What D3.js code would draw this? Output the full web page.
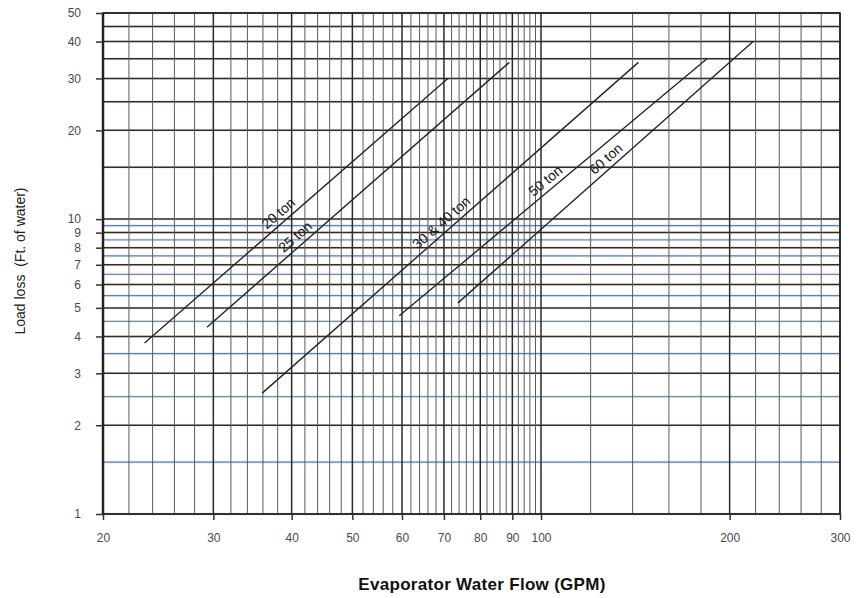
<!DOCTYPE html>
<html>
<head>
<meta charset="utf-8">
<script src="https://cdn.jsdelivr.net/npm/d3@7"></script>
<style>
    body { margin: 0; background: #fff; }
    svg { display: block; }
</style>
</head>
<body>
<script>
// chart data
const tons = ['20 ton', '25 ton', '30 & 40 ton', '50 ton', '60 ton']
const flowStart = [23.3, 29.3, 35.9, 59.4, 73.7]
const lossStart = [3.8, 4.3, 2.57, 4.7, 5.2]
const flowEnd = [71, 89, 143, 184, 218]
const lossEnd = [30, 34, 34, 35, 40]
const labelFlow = [39, 41.5, 71, 104, 130]

const xTicks = [20, 30, 40, 50, 60, 70, 80, 90, 100, 200, 300]
const yTicks = [1, 2, 3, 4, 5, 6, 7, 8, 9, 10, 20, 30, 40, 50]

// grid lines of the log paper
const xGrid = d3.range(20, 100, 2).concat(d3.range(100, 301, 20))
const yGrid = d3.range(1, 10, 0.5).concat(d3.range(10, 51, 5))

const width = 867
const height = 598

const x = d3.scaleLog().domain([20, 300]).range([103, 840])
const y = d3.scaleLog().domain([1, 50]).range([514, 13])

const svg = d3.select('body').append('svg')
    .attr('width', width)
    .attr('height', height)
    .attr('viewBox', [0, 0, width, height])
    .attr('font-family', 'Liberation Sans, Arial, sans-serif')

const isMajorX = d => xTicks.includes(d)
const isMajorY = d => Number.isInteger(d)
const tint = ['#a8925a', '#5f7fb8', '#8a6f55', '#7d8fa8']

// faint halo the scan left round the printed horizontal lines
svg.append('g')
    .selectAll('line')
    .data(yGrid)
    .join('line')
        .attr('x1', x(20))
        .attr('x2', x(300))
        .attr('y1', d => y(d))
        .attr('y2', d => y(d))
        .attr('stroke', (d, i) => i % 2 ? '#d6e4f3' : '#f3e9bc')
        .attr('stroke-width', 3)
        .attr('opacity', 0.55)

svg.append('g')
    .selectAll('line')
    .data(yGrid)
    .join('line')
        .attr('x1', x(20))
        .attr('x2', x(300))
        .attr('y1', d => y(d))
        .attr('y2', d => y(d))
        .attr('stroke', (d, i) => isMajorY(d) ? '#2a2c38' : tint[i % tint.length])
        .attr('stroke-width', d => isMajorY(d) ? 1.5 : 1.3)

svg.append('g')
    .selectAll('line')
    .data(xGrid)
    .join('line')
        .attr('x1', d => x(d))
        .attr('x2', d => x(d))
        .attr('y1', y(1))
        .attr('y2', y(50))
        .attr('stroke', d => isMajorX(d) ? '#2b2b2b' : '#5c5c5c')
        .attr('stroke-width', d => isMajorX(d) ? 1.5 : 1)

// frame
svg.append('rect')
    .attr('x', x(20))
    .attr('y', y(50))
    .attr('width', x(300) - x(20))
    .attr('height', y(1) - y(50))
    .attr('fill', 'none')
    .attr('stroke', '#222')
    .attr('stroke-width', 1.5)
svg.append('line')
    .attr('x1', x(20)).attr('x2', x(20))
    .attr('y1', y(50)).attr('y2', y(1))
    .attr('stroke', '#222')
    .attr('stroke-width', 2.5)

// axes
const yAxis = svg.append('g')
    .attr('transform', `translate(${x(20)},0)`)
    .call(d3.axisLeft(y).tickValues(yTicks).tickFormat(d3.format('d')).tickSize(7).tickPadding(15))
const xAxis = svg.append('g')
    .attr('transform', `translate(0,${y(1)})`)
    .call(d3.axisBottom(x).tickValues(xTicks).tickFormat(d3.format('d')).tickSize(6).tickPadding(13))

for (const axis of [xAxis, yAxis]) {
    axis.select('.domain').remove()
    axis.selectAll('.tick line').attr('stroke', '#333').attr('stroke-width', 1.5)
    axis.selectAll('.tick text')
        .attr('fill', '#4a4a4a')
        .attr('font-size', 12)
        .attr('font-family', 'Liberation Sans, Arial, sans-serif')
}

// ton lines
const lines = tons.map((name, i) => ({
    name,
    p0: [x(flowStart[i]), y(lossStart[i])],
    p1: [x(flowEnd[i]), y(lossEnd[i])],
    labelAt: labelFlow[i]
}))

svg.append('g')
    .selectAll('line')
    .data(lines)
    .join('line')
        .attr('x1', d => d.p0[0])
        .attr('y1', d => d.p0[1])
        .attr('x2', d => d.p1[0])
        .attr('y2', d => d.p1[1])
        .attr('stroke', '#262626')
        .attr('stroke-width', 1.4)

svg.append('g')
        .attr('font-size', 14)
        .attr('fill', '#151515')
    .selectAll('text')
    .data(lines)
    .join('text')
        .attr('text-anchor', 'middle')
        .attr('transform', d => {
            const dx = d.p1[0] - d.p0[0]
            const dy = d.p1[1] - d.p0[1]
            const angle = Math.atan2(dy, dx)
            const px = x(d.labelAt)
            const py = d.p0[1] + (px - d.p0[0]) * dy / dx
            // lift the baseline off the line
            const ox = Math.sin(angle) * 5
            const oy = -Math.cos(angle) * 5
            return `translate(${px + ox},${py + oy}) rotate(${angle * 180 / Math.PI})`
        })
        .text(d => d.name)

// axis titles
svg.append('text')
    .attr('x', 482)
    .attr('y', 590)
    .attr('text-anchor', 'middle')
    .attr('font-size', 17)
    .attr('font-weight', 'bold')
    .attr('letter-spacing', 0.3)
    .attr('fill', '#111')
    .text('Evaporator Water Flow (GPM)')

svg.append('text')
    .attr('transform', 'translate(25,261) rotate(-90)')
    .attr('text-anchor', 'middle')
    .attr('font-size', 14)
    .attr('fill', '#222')
    .style('white-space', 'pre')
    .text('Load loss  (Ft. of water)')
</script>
</body>
</html>
